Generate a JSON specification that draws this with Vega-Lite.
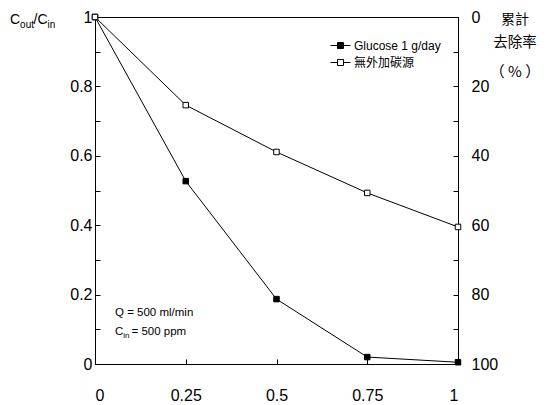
{
  "$schema": "https://vega.github.io/schema/vega-lite/v6.json",
  "width": 363,
  "height": 347,
  "autosize": "none",
  "padding": {"left": 95, "top": 17, "right": 90, "bottom": 41},
  "background": "white",
  "config": {
    "font": "Liberation Sans",
    "view": {"stroke": "black", "strokeWidth": 1},
    "axis": {
      "grid": false,
      "domainColor": "black",
      "tickColor": "black",
      "labelColor": "black",
      "labelFont": "Liberation Sans",
      "labelFontSize": 16,
      "tickSize": -5,
      "title": null,
      "domainWidth": 1,
      "tickWidth": 1
    },
    "text": {"font": "Liberation Sans", "color": "black"}
  },
  "datasets": {
    "conc": [
      {"t": 0, "c": 1, "s": "Glucose 1 g/day"},
      {"t": 0.25, "c": 0.527, "s": "Glucose 1 g/day"},
      {"t": 0.5, "c": 0.187, "s": "Glucose 1 g/day"},
      {"t": 0.75, "c": 0.02, "s": "Glucose 1 g/day"},
      {"t": 1, "c": 0.005, "s": "Glucose 1 g/day"},
      {"t": 0, "c": 1, "s": "無外加碳源"},
      {"t": 0.25, "c": 0.746, "s": "無外加碳源"},
      {"t": 0.5, "c": 0.611, "s": "無外加碳源"},
      {"t": 0.75, "c": 0.493, "s": "無外加碳源"},
      {"t": 1, "c": 0.395, "s": "無外加碳源"}
    ]
  },
  "layer": [
    {
      "data": {"name": "conc"},
      "mark": {"type": "line", "color": "black", "strokeWidth": 1},
      "encoding": {
        "x": {"field": "t", "type": "quantitative", "scale": {"domain": [0, 1], "nice": false, "zero": false},
              "axis": {"orient": "bottom", "values": [0, 0.25, 0.5, 0.75, 1], "labelExpr": "''+datum.value", "labelPadding": 28}},
        "y": {"field": "c", "type": "quantitative", "scale": {"domain": [0, 1], "nice": false, "zero": false},
              "axis": {"orient": "left", "values": [0, 0.1, 0.2, 0.3, 0.4, 0.5, 0.6, 0.7, 0.8, 0.9, 1],
                       "labelExpr": "round(datum.value*10)%2==0 ? ''+round(datum.value*10)/10 : ''", "labelPadding": 8}},
        "detail": {"field": "s", "type": "nominal"}
      }
    },
    {
      "data": {"name": "conc"},
      "mark": {"type": "point", "shape": "square", "size": 30, "filled": true, "stroke": "black", "strokeWidth": 1, "opacity": 1},
      "encoding": {
        "x": {"field": "t", "type": "quantitative", "axis": null},
        "y": {"field": "c", "type": "quantitative",
              "axis": {"orient": "right", "values": [0, 0.1, 0.2, 0.3, 0.4, 0.5, 0.6, 0.7, 0.8, 0.9, 1],
                       "labelExpr": "round(datum.value*10)%2==0 ? ''+(100-round(datum.value*10)*10) : ''", "labelPadding": 18}},
        "fill": {"field": "s", "type": "nominal",
                 "scale": {"domain": ["Glucose 1 g/day", "無外加碳源"], "range": ["black", "white"]},
                 "legend": {"orient": "none", "legendX": 235, "legendY": 18, "title": null,
                            "symbolType": "M-1,0H-0.3M0.3,0H1M-0.3,-0.3H0.3V0.3H-0.3Z",
                            "symbolSize": 400, "symbolStrokeColor": "black", "symbolStrokeWidth": 1,
                            "labelFontSize": 12, "labelFont": "Liberation Sans, Noto Sans CJK TC",
                            "labelColor": "black", "rowPadding": 0, "padding": 0, "labelOffset": 3}}
      }
    },
    {
      "data": {"values": [{}]},
      "mark": {"type": "text", "text": "Q = 500 ml/min", "fontSize": 11.5, "align": "left", "baseline": "middle"},
      "encoding": {"x": {"datum": 0.0551, "type": "quantitative", "axis": null}, "y": {"datum": 0.147, "type": "quantitative", "axis": null}}
    },
    {
      "data": {"values": [{}]},
      "mark": {"type": "text", "text": "C", "fontSize": 11.5, "align": "left", "baseline": "middle"},
      "encoding": {"x": {"datum": 0.0551, "type": "quantitative", "axis": null}, "y": {"datum": 0.0922, "type": "quantitative", "axis": null}}
    },
    {
      "data": {"values": [{}]},
      "mark": {"type": "text", "text": "in", "fontSize": 8, "align": "left", "baseline": "middle"},
      "encoding": {"x": {"datum": 0.078, "type": "quantitative", "axis": null}, "y": {"datum": 0.082, "type": "quantitative", "axis": null}}
    },
    {
      "data": {"values": [{}]},
      "mark": {"type": "text", "text": "= 500 ppm", "fontSize": 11.5, "align": "left", "baseline": "middle"},
      "encoding": {"x": {"datum": 0.1006, "type": "quantitative", "axis": null}, "y": {"datum": 0.0922, "type": "quantitative", "axis": null}}
    },
    {
      "data": {"values": [{}]},
      "mark": {"type": "text", "text": "C", "fontSize": 14, "align": "left", "baseline": "middle"},
      "encoding": {"x": {"datum": -0.2342, "type": "quantitative", "axis": null}, "y": {"datum": 0.9905, "type": "quantitative", "axis": null}}
    },
    {
      "data": {"values": [{}]},
      "mark": {"type": "text", "text": "out", "fontSize": 10, "align": "left", "baseline": "middle"},
      "encoding": {"x": {"datum": -0.2063, "type": "quantitative", "axis": null}, "y": {"datum": 0.977, "type": "quantitative", "axis": null}}
    },
    {
      "data": {"values": [{}]},
      "mark": {"type": "text", "text": "/C", "fontSize": 14, "align": "left", "baseline": "middle"},
      "encoding": {"x": {"datum": -0.1694, "type": "quantitative", "axis": null}, "y": {"datum": 0.9905, "type": "quantitative", "axis": null}}
    },
    {
      "data": {"values": [{}]},
      "mark": {"type": "text", "text": "in", "fontSize": 10, "align": "left", "baseline": "middle"},
      "encoding": {"x": {"datum": -0.1309, "type": "quantitative", "axis": null}, "y": {"datum": 0.977, "type": "quantitative", "axis": null}}
    },
    {
      "data": {"values": [{}]},
      "mark": {"type": "text", "text": "累計", "fontSize": 14, "font": "Noto Sans CJK TC", "align": "center", "baseline": "middle"},
      "encoding": {"x": {"datum": 1.157, "type": "quantitative", "axis": null}, "y": {"datum": 0.991, "type": "quantitative", "axis": null}}
    },
    {
      "data": {"values": [{}]},
      "mark": {"type": "text", "text": "去除率", "fontSize": 14.5, "font": "Noto Sans CJK TC", "align": "center", "baseline": "middle"},
      "encoding": {"x": {"datum": 1.157, "type": "quantitative", "axis": null}, "y": {"datum": 0.925, "type": "quantitative", "axis": null}}
    },
    {
      "data": {"values": [{}]},
      "mark": {"type": "text", "text": "（ % ）", "fontSize": 15, "font": "Noto Sans CJK TC", "align": "center", "baseline": "middle"},
      "encoding": {"x": {"datum": 1.157, "type": "quantitative", "axis": null}, "y": {"datum": 0.841, "type": "quantitative", "axis": null}}
    }
  ],
  "resolve": {"axis": {"x": "independent", "y": "independent"}}
}
